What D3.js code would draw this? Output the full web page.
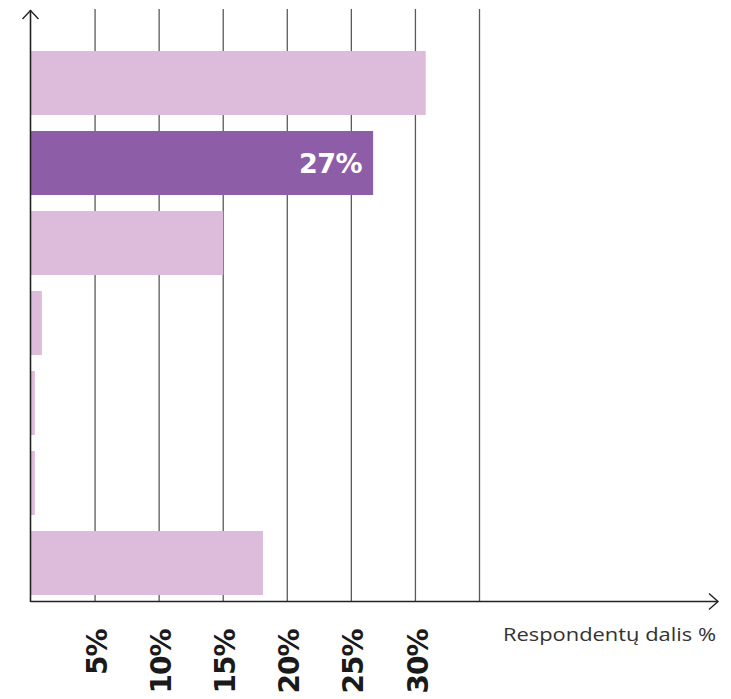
<!DOCTYPE html>
<html><head><meta charset="utf-8">
<script src="https://cdn.jsdelivr.net/npm/d3@7"></script>
<style>body{margin:0;background:#fff}svg{display:block}</style>
</head><body>
<svg id="c" width="731" height="699"></svg>
<script>
const categories = ["A","B","C","D","E","F","G"];
const values = [30.8, 26.7, 15.0, 0.85, 0.3, 0.3, 18.1];
const highlight = [false, true, false, false, false, false, false];
const barLabels = ["", "27%", "", "", "", "", ""];
const tickValues = [5,10,15,20,25,30];
const gridValues = [5,10,15,20,25,30,35];
const axisTitle = "Respondentų dalis %";

const svg = d3.select("#c");
const x = d3.scaleLinear().domain([0,35]).range([31, 479.5]);
const y = d3.scaleBand().domain(categories).range([43, 603]).paddingInner(0.2).paddingOuter(0.1);
const axisY = 601.5, axisX = 30.5;

// gridlines
svg.append("g").selectAll("line").data(gridValues).join("line")
  .attr("x1", d=>x(d)).attr("x2", d=>x(d)).attr("y1", 9).attr("y2", axisY)
  .attr("stroke", "#5a5a5a").attr("stroke-width", 1.3);

// bars
svg.append("g").selectAll("rect").data(categories).join("rect")
  .attr("x", x(0)).attr("y", d=>y(d)).attr("height", y.bandwidth())
  .attr("width", (d,i)=>x(values[i]) - x(0))
  .attr("fill", (d,i)=>highlight[i] ? "#8e5da8" : "#ddbbda");

// bar labels
svg.append("g").selectAll("text").data(categories).join("text")
  .attr("x", (d,i)=>x(values[i]) - 11).attr("y", d=>y(d)+y.bandwidth()/2)
  .attr("dy", "0.36em").attr("text-anchor","end")
  .attr("font-family","DejaVu Sans").attr("font-weight","bold").attr("font-size", 27)
  .attr("fill","#fff").attr("letter-spacing", -0.5)
  .text((d,i)=>barLabels[i]);

// axes
svg.append("line").attr("x1", axisX).attr("x2", axisX).attr("y1", 10).attr("y2", axisY+0.5)
  .attr("stroke","#222").attr("stroke-width",1.6);
svg.append("line").attr("x1", axisX).attr("x2", 718).attr("y1", axisY).attr("y2", axisY)
  .attr("stroke","#222").attr("stroke-width",1.6);
svg.append("path").attr("d", `M${axisX-8},${19} L${axisX},${10.5} L${axisX+8},${19}`)
  .attr("fill","none").attr("stroke","#222").attr("stroke-width",1.4);
svg.append("path").attr("d", `M${709},${axisY-8} L${718},${axisY} L${709},${axisY+8}`)
  .attr("fill","none").attr("stroke","#222").attr("stroke-width",1.4);

// tick labels
svg.append("g").selectAll("text").data(tickValues).join("text")
  .attr("transform", d=>`translate(${x(d)+2},629.5) rotate(-90)`)
  .attr("dy","0.36em").attr("text-anchor","end")
  .attr("font-family","DejaVu Sans").attr("font-weight","bold").attr("font-size", 28)
  .attr("fill","#1a1a1a").attr("letter-spacing", -1)
  .text(d=>d+"%");

svg.append("text").attr("x", 716).attr("y", 641).attr("text-anchor","end")
  .attr("font-family","Open Sans").attr("font-size", 19).attr("fill","#333")
  .attr("textLength", 213).attr("lengthAdjust","spacingAndGlyphs")
  .text(axisTitle);
</script>
</body></html>
